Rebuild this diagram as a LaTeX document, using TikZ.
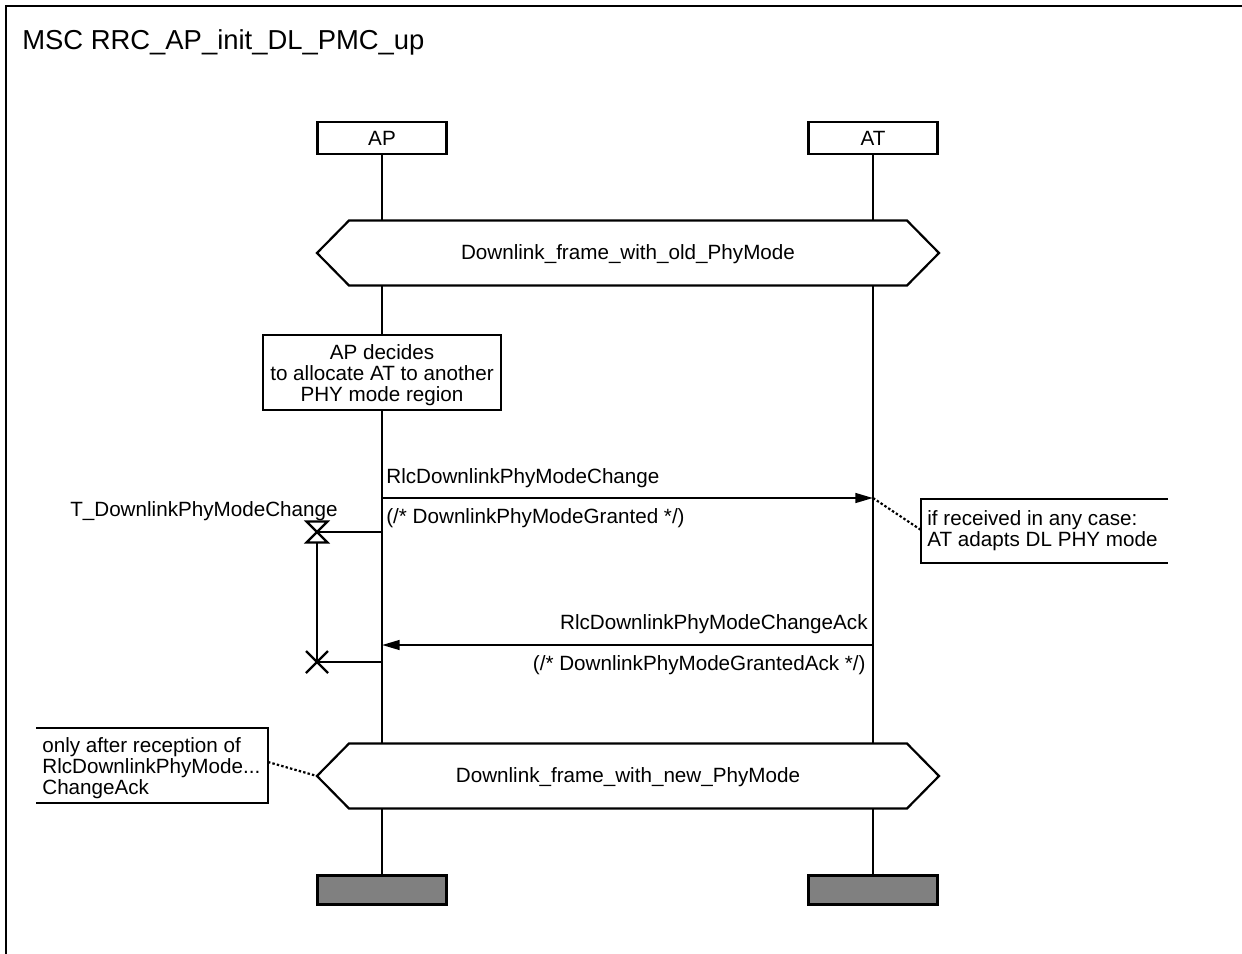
\documentclass[tikz,border=0pt]{standalone}
\usepackage{fontspec}
\setmainfont{Liberation Sans}
\usetikzlibrary{arrows.meta}

\begin{document}
\begin{tikzpicture}[
    x=0.02cm, y=-0.02cm,
    every node/.style={
        inner sep=0pt,
        font=\fontsize{11.75}{11.9}\selectfont
    },
    instbox/.style={
        rectangle,
        draw,
        line width=1.25pt,
        minimum width=2.58cm,
        minimum height=0.64cm
    },
    endbox/.style={
        rectangle,
        draw,
        fill=gray,
        line width=1.25pt,
        minimum width=2.58cm,
        minimum height=0.58cm
    },
    actbox/.style={
        rectangle,
        draw,
        fill=white,
        line width=1.25pt,
        minimum width=4.76cm,
        minimum height=1.5cm,
        align=center
    },
    cond/.style={draw, fill=white, line width=1.25pt},
    lifeline/.style={line width=1.25pt},
    msg/.style={-{Triangle[length=10pt,width=5.5pt]}, line width=1.25pt},
    note/.style={line width=1.25pt},
    noteline/.style={line width=1.25pt, dash pattern=on 1.4pt off 1.2pt},
    timerline/.style={line width=1.25pt}
]
\useasboundingbox (0,0) rectangle (1242,954);

% frame and title
\draw[line width=1.4pt] (1242,6) -- (6,6) -- (6,954);
\node[anchor=base west, font=\fontsize{15.6}{16}\selectfont] (title) at (22,49.5) {MSC RRC\_AP\_init\_DL\_PMC\_up};

% instances
\node[instbox] (ap) at (382,138) {AP};
\node[instbox] (at) at (873,138) {AT};
\node[endbox] (apend) at (382,890) {};
\node[endbox] (atend) at (873,890) {};

\draw[lifeline] (ap) -- (apend);
\draw[lifeline] (at) -- (atend);

% old PhyMode condition
\draw[cond] (317,253) -- (349,220.5) -- (907,220.5) -- (939,253)
    -- (907,285.5) -- (349,285.5) -- cycle;
\node (oldmode) at (628,254) {Downlink\_frame\_with\_old\_PhyMode};

% decision of AP
\node[actbox] (decide) at (382,372.5) {\rule{0pt}{12pt}AP decides\\to allocate AT to another\\PHY mode region};

% mode change request
\coordinate (req1) at (382,498);
\coordinate (req2) at (873,498);
\draw[msg] (req1) -- (req2);
\node[anchor=west] (reqname) at (386,478) {RlcDownlinkPhyModeChange};
\node[anchor=west] (reqpar) at (386,518) {(/* DownlinkPhyModeGranted */)};

% note at AT
\draw[note] (1168,499) -- (921,499) -- (921,563) -- (1168,563);
\coordinate (atnote) at (921,530);
\node[anchor=west, align=left] (atnotetxt) at (927,531) {if received in any case:\\AT adapts DL PHY mode};
\draw[noteline] (req2) -- (atnote);

% timer
\coordinate (tset) at (382,532);
\coordinate (tglass) at (317,532);
\coordinate (tout) at (317,662);
\coordinate (tstop) at (382,662);
\draw[timerline] (tset) -- (tglass);
\draw[timerline] (317,543) -- (tout);
\draw[timerline, fill=white] (306.5,521.5) -- (327.5,521.5) -- (306.5,542.5) -- (327.5,542.5) -- cycle;
\draw[timerline] (tout) -- (tstop);
\draw[timerline] (306,651) -- (328,673);
\draw[timerline] (306,673) -- (328,651);
\node[anchor=east] (tname) at (338,511) {T\_DownlinkPhyModeChange};

% acknowledgement
\coordinate (ack1) at (873,645);
\coordinate (ack2) at (382,645);
\draw[msg] (ack1) -- (ack2);
\node[anchor=east] (ackname) at (868,624) {RlcDownlinkPhyModeChangeAck};
\node[anchor=east] (ackpar) at (866,665) {(/* DownlinkPhyModeGrantedAck */)};

% new PhyMode condition
\draw[cond] (317,776) -- (349,743.5) -- (907,743.5) -- (939,776)
    -- (907,808.5) -- (349,808.5) -- cycle;
\coordinate (newtip) at (317,776);
\node (newmode) at (628,777) {Downlink\_frame\_with\_new\_PhyMode};

% note at AP
\draw[note] (36,728) -- (268,728) -- (268,803) -- (36,803);
\coordinate (apnote) at (268,762);
\node[anchor=west, align=left] (apnotetxt) at (42,768) {only after reception of\\RlcDownlinkPhyMode...\\ChangeAck};
\draw[noteline] (apnote) -- (newtip);

\end{tikzpicture}
\end{document}
